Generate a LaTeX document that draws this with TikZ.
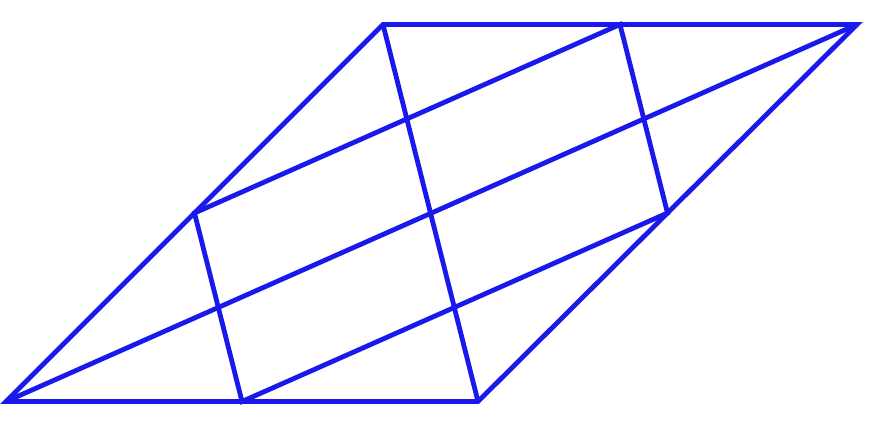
\documentclass[tikz,border=0pt]{standalone}
\usetikzlibrary{calc}
\definecolor{lineblue}{RGB}{25,25,235}
\tikzset{edge/.style={draw=lineblue,line width=4.8pt,line join=miter}}
\begin{document}
\begin{tikzpicture}[x=1pt,y=-1pt]
\useasboundingbox (0,0) rectangle (891,423);
\coordinate (A) at (6,401.5);
\coordinate (B) at (478,401.5);
\coordinate (C) at (857,24.5);
\coordinate (D) at (383,24.5);
\coordinate (M1) at ($(A)!0.5!(D)$);
\coordinate (M2) at ($(A)!0.5!(B)$);
\coordinate (M3) at ($(B)!0.5!(C)$);
\coordinate (M4) at ($(D)!0.5!(C)$);
\draw[edge] (A) -- (B) -- (C) -- (D) -- cycle;
\draw[edge] (A) -- (C);
\draw[edge] (B) -- (D);
\draw[edge] (M1) -- (M4) -- (M3) -- (M2) -- cycle;
\end{tikzpicture}
\end{document}
